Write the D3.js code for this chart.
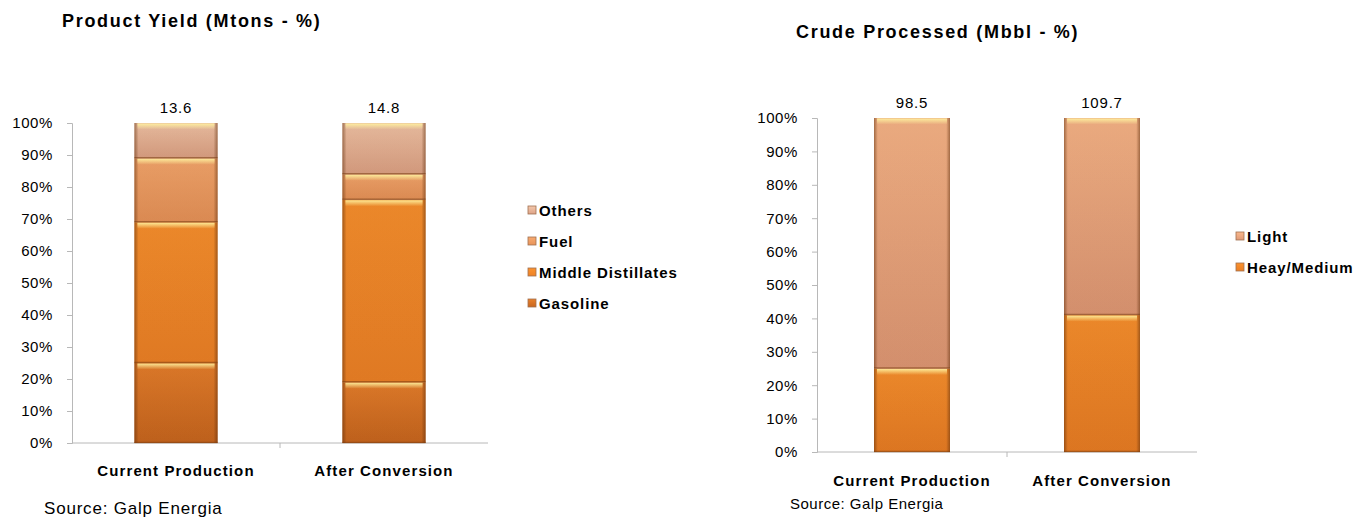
<!DOCTYPE html>
<html>
<head>
<meta charset="utf-8" />
<title>Product Yield / Crude Processed</title>
<script src="https://d3js.org/d3.v7.min.js"></script>
<style>
  body { margin: 0; background: #ffffff; }
  text { font-family: "Liberation Sans", Arial, sans-serif; fill: #000; }
  .title { font-weight: bold; font-size: 18px; letter-spacing: 1.7px; }
  .cat { font-weight: bold; font-size: 15px; letter-spacing: 1.1px; }
  .legend text { font-weight: bold; font-size: 15px; letter-spacing: 0.9px; }
</style>
</head>
<body>
<svg id="viz" width="1370" height="518"></svg>

<script>
// categories
var categories = ["Current Production", "After Conversion"];

// product yield (% share, bottom to top)
var yieldSeries = ["Gasoline", "Middle Distillates", "Fuel", "Others"];
var gasoline = [25, 19];
var middleDistillates = [44, 57];
var fuel = [20, 8];
var others = [11, 16];
var yieldTotals = ["13.6", "14.8"];

// crude processed (% share, bottom to top)
var crudeSeries = ["Heay/Medium", "Light"];
var heavyMedium = [25, 41];
var light = [75, 59];
var crudeTotals = ["98.5", "109.7"];

var yTicks = [0, 10, 20, 30, 40, 50, 60, 70, 80, 90, 100];

// segment colours: [top, bottom]
var colors = {
  "Gasoline": ["#e8802c", "#c8661e"],
  "Middle Distillates": ["#fb922e", "#ee8226"],
  "Fuel": ["#f8aa70", "#e8945a"],
  "Others": ["#f4c8ac", "#dea488"],
  "Heay/Medium": ["#fb922e", "#ea7e24"],
  "Light": ["#fab88c", "#e09a78"]
};

var svg = d3.select("#viz");
var defs = svg.append("defs");

Object.keys(colors).forEach(function(k, i) {
  var g = defs.append("linearGradient").attr("id", "g" + i)
    .attr("x1", 0).attr("y1", 0).attr("x2", 0).attr("y2", 1);
  g.append("stop").attr("offset", "0%").attr("stop-color", colors[k][0]);
  g.append("stop").attr("offset", "100%").attr("stop-color", colors[k][1]);
  colors[k].grad = "url(#g" + i + ")";
});

// side shading of the bevel
var side = defs.append("linearGradient").attr("id", "side")
  .attr("x1", 0).attr("y1", 0).attr("x2", 1).attr("y2", 0);
side.append("stop").attr("offset", "0%").attr("stop-color", "#5a2a08").attr("stop-opacity", 0.55);
side.append("stop").attr("offset", "5%").attr("stop-color", "#5a2a08").attr("stop-opacity", 0.1);
side.append("stop").attr("offset", "95%").attr("stop-color", "#5a2a08").attr("stop-opacity", 0.1);
side.append("stop").attr("offset", "100%").attr("stop-color", "#5a2a08").attr("stop-opacity", 0.55);

var shine = defs.append("linearGradient").attr("id", "shine")
  .attr("x1", 0).attr("y1", 0).attr("x2", 0).attr("y2", 1);
shine.append("stop").attr("offset", "0%").attr("stop-color", "#fff3a0").attr("stop-opacity", 0.9);
shine.append("stop").attr("offset", "100%").attr("stop-color", "#fff3a0").attr("stop-opacity", 0);

function drawChart(opt) {
  var x = d3.scaleBand().domain(categories)
    .range([opt.left, opt.right]).paddingInner(opt.pad).paddingOuter(opt.pad / 2);
  var y = d3.scaleLinear().domain([0, 100]).range([opt.bottom, opt.top]);

  var g = svg.append("g");

  g.append("text").attr("class", "title")
    .attr("x", opt.titleX).attr("y", opt.titleY).text(opt.title);

  // y axis
  var yAxis = g.append("g")
    .attr("transform", "translate(" + opt.left + ",0)")
    .call(d3.axisLeft(y).tickValues(yTicks).tickFormat(function(d) { return d + "%"; })
      .tickSize(5).tickPadding(14));
  yAxis.select(".domain").attr("stroke", "#b8b8b8");
  yAxis.selectAll(".tick line").attr("stroke", "#b8b8b8");
  yAxis.selectAll(".tick text")
    .style("font-size", "15px")
    .style("letter-spacing", "0.6px")
    .style("font-family", "Liberation Sans, Arial, sans-serif");

  // x axis
  var xAxis = g.append("g")
    .attr("transform", "translate(0," + opt.bottom + ")");
  xAxis.append("line").attr("x1", opt.left).attr("x2", opt.right)
    .attr("stroke", "#b8b8b8");
  xAxis.selectAll(".sep").data([opt.left + (opt.right - opt.left) / 2])
    .enter().append("line")
    .attr("x1", function(d) { return d; }).attr("x2", function(d) { return d; })
    .attr("y1", 0).attr("y2", 5).attr("stroke", "#b8b8b8");

  g.selectAll(".cat").data(categories).enter().append("text")
    .attr("class", "cat")
    .attr("x", function(d) { return x(d) + x.bandwidth() / 2; })
    .attr("y", opt.catY)
    .attr("text-anchor", "middle")
    .text(function(d) { return d; });

  // stacked segments
  var rows = categories.map(function(c, i) {
    var r = { cat: c };
    opt.series.forEach(function(s, j) { r[s] = opt.values[j][i]; });
    return r;
  });
  var stack = d3.stack().keys(opt.series)(rows);

  stack.forEach(function(layer) {
    var key = layer.key;
    layer.forEach(function(d) {
      var bx = x(d.data.cat), bw = x.bandwidth();
      var yt = y(d[1]), yb = y(d[0]);
      g.append("rect").attr("x", bx).attr("y", yt).attr("width", bw).attr("height", yb - yt)
        .attr("fill", colors[key].grad);
      g.append("rect").attr("x", bx).attr("y", yt).attr("width", bw).attr("height", yb - yt)
        .attr("fill", "url(#side)");
      g.append("rect").attr("x", bx + 3).attr("y", yt + 0.5).attr("width", bw - 6).attr("height", 6)
        .attr("fill", "url(#shine)");
      g.append("line").attr("x1", bx).attr("x2", bx + bw).attr("y1", yb - 0.5).attr("y2", yb - 0.5)
        .attr("stroke", "#7a3e12").attr("stroke-opacity", 0.55).attr("stroke-width", 1.5);
    });
  });

  // totals
  g.selectAll(".tot").data(categories).enter().append("text")
    .attr("x", function(d) { return x(d) + x.bandwidth() / 2; })
    .attr("y", opt.top - 10)
    .attr("text-anchor", "middle")
    .style("font-size", "15px")
    .style("letter-spacing", "0.8px")
    .text(function(d, i) { return opt.totals[i]; });

  // legend (top to bottom = reversed series)
  var leg = g.append("g").attr("class", "legend");
  var items = opt.series.slice().reverse();
  items.forEach(function(s, i) {
    var ly = opt.legY + i * opt.legStep;
    leg.append("rect").attr("x", opt.legX).attr("y", ly - 10).attr("width", 8).attr("height", 8)
      .attr("fill", colors[s].grad).attr("stroke", "#a07050").attr("stroke-width", 0.8);
    leg.append("text").attr("x", opt.legX + 11).attr("y", ly).text(s);
  });

  g.append("text").attr("x", opt.srcX).attr("y", opt.srcY)
    .style("font-size", opt.srcSize).style("letter-spacing", opt.srcSpacing)
    .text("Source: Galp Energia");
}

drawChart({
  title: "Product Yield (Mtons - %)", titleX: 62, titleY: 27,
  left: 72, right: 488, top: 123, bottom: 443, pad: 0.6,
  series: yieldSeries, values: [gasoline, middleDistillates, fuel, others],
  totals: yieldTotals, catY: 476,
  legX: 528, legY: 216, legStep: 31,
  srcX: 44, srcY: 514, srcSize: "17px", srcSpacing: "0.8px"
});

drawChart({
  title: "Crude Processed (Mbbl - %)", titleX: 796, titleY: 38,
  left: 817, right: 1197, top: 118, bottom: 452, pad: 0.6,
  series: crudeSeries, values: [heavyMedium, light],
  totals: crudeTotals, catY: 486,
  legX: 1236, legY: 242, legStep: 31,
  srcX: 790, srcY: 509, srcSize: "15px", srcSpacing: "0.5px"
});
</script>
</body>
</html>
